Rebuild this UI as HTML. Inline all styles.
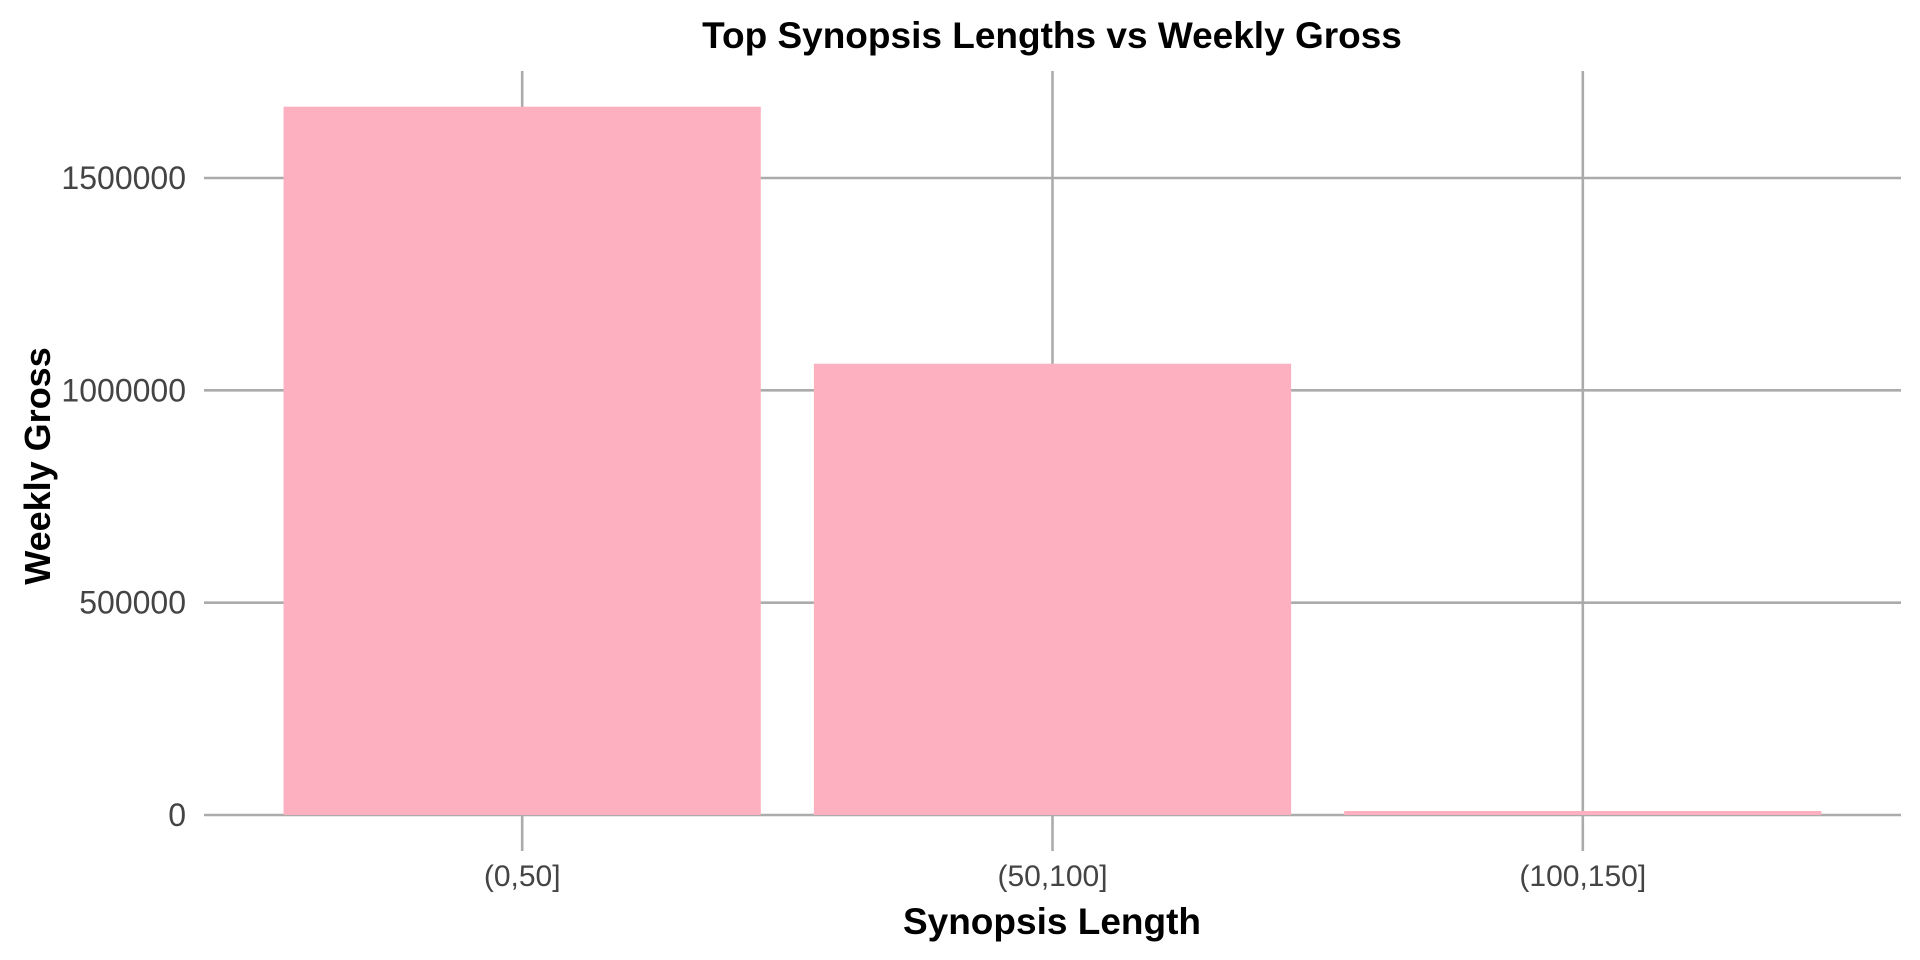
<!DOCTYPE html>
<html><head><meta charset="utf-8"><style>
html,body{margin:0;padding:0;background:#fff;}
svg{display:block;font-family:"Liberation Sans",Arial,sans-serif;}
</style></head><body>
<svg id="chart" width="1920" height="960" xmlns="http://www.w3.org/2000/svg">
<g id="grid"></g>
<g id="bars"></g>
<g id="ylabels"></g>
<g id="xlabels"></g>
<text x="1052" y="48" text-anchor="middle" font-size="37" font-weight="bold" fill="#000">Top Synopsis Lengths vs Weekly Gross</text>
<text x="1052" y="934" text-anchor="middle" font-size="37" font-weight="bold" fill="#000">Synopsis Length</text>
<text x="0" y="0" transform="translate(50,466) rotate(-90)" text-anchor="middle" font-size="36" font-weight="bold" fill="#000">Weekly Gross</text>
</svg>
<script>
const categories = ["(0,50]", "(50,100]", "(100,150]"];
const grossValues = [1667900, 1062700, 9400];
const yTicks = [0, 500000, 1000000, 1500000];
const yTickLabels = ["0", "500000", "1000000", "1500000"];

const NS = "http://www.w3.org/2000/svg";
const plotLeft = 204, plotRight = 1901, y0px = 815, y15px = 178;
const step = (plotRight - plotLeft) / (categories.length + 0.2);
function xCenter(i){ return plotLeft + step * (0.6 + i); }
function yScale(v){ return y0px - (v / 1500000) * (y0px - y15px); }
const barW = step * 0.9;

function mk(tag, attrs, parent){
  const el = document.createElementNS(NS, tag);
  for (const k in attrs) el.setAttribute(k, attrs[k]);
  parent.appendChild(el);
  return el;
}
const grid = document.getElementById('grid');
const bars = document.getElementById('bars');
const yl = document.getElementById('ylabels');
const xl = document.getElementById('xlabels');

yTicks.forEach((t, i) => {
  const y = yScale(t);
  const ln = mk('line', {x1: plotLeft, x2: plotRight, y1: y, y2: y, stroke: '#ababab', 'stroke-width': 2.6}, grid);
  
  
  const tx = mk('text', {x: 186, y: y + 11, 'text-anchor': 'end', 'font-size': 32, fill: '#444'}, yl);
  tx.textContent = yTickLabels[i];
  
  
});

categories.forEach((c, i) => {
  const x = xCenter(i);
  const ln = mk('line', {x1: x, x2: x, y1: 71, y2: 851, stroke: '#ababab', 'stroke-width': 2.6}, grid);
  
  
  const top = yScale(grossValues[i]);
  const r = mk('rect', {x: x - barW / 2, y: top, width: barW, height: y0px - top, fill: '#fdb0c0'}, bars);
  
  
  const tx = mk('text', {x: x, y: 886, 'text-anchor': 'middle', 'font-size': 30, fill: '#444'}, xl);
  tx.textContent = c;
  
  
});
</script>
</body></html>
